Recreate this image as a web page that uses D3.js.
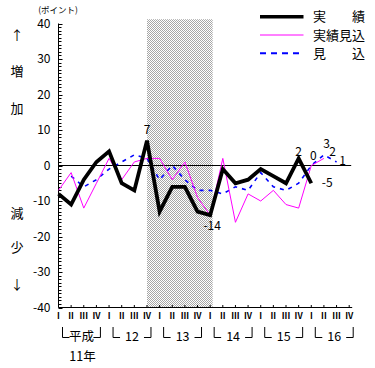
<!DOCTYPE html>
<html><head><meta charset="utf-8">
<script src="https://cdn.jsdelivr.net/npm/d3@7"></script>
<style>body{margin:0;background:#fff}svg{display:block}text{font-family:"Noto Sans CJK JP","DejaVu Sans",sans-serif}</style>
</head><body>
<svg id="c" width="375" height="368"></svg>
<script>
// ---- data ----
const quarterLabels = ["I","II","III","IV"];
const yearLabels = ["平成","12","13","14","15","16"];
const firstYearSuffix = "11年";
const yTicks = [40,30,20,10,0,-10,-20,-30,-40];
// 実績 (from 平成11年Ⅰ)
const actual = [-8,-11,-4,1,4,-5,-7,7,-13,-6,-6,-13,-14,-1,-5,-4,-1,-3,-5,2,-5];
// 実績見込
const actualEst = [-7,-2,-12,-5,2,-4,1,2,2,-4,1,-9,-14,2,-16,-8,-10,-7,-11,-12,0,2];
// 見込 (null = no value)
const forecast = [null,-3,-6,-4,-1,1,3,2,-4,0,-4,-7,-7,-8,-6,-7,-2,-6,-7,-5,0,3,1];
const shadeFrom = 7, shadeTo = 12;   // 12年Ⅳ .. 14年Ⅰ
const annotations = [
  {series:"actual", idx:7, text:"7", dx:0, dy:-11},
  {series:"actual", idx:12, text:"-14", dx:2, dy:10},
  {series:"actual", idx:19, text:"2", dx:0, dy:-7},
  {series:"actualEst", idx:20, text:"0", dx:2, dy:-9.5},
  {series:"forecast", idx:21, text:"3", dx:2.7, dy:-11},
  {series:"actualEst", idx:21, text:"2", dx:8.7, dy:-6.7},
  {series:"forecast", idx:22, text:"1", dx:6, dy:-1},
  {series:"actual", idx:20, text:"-5", dx:16, dy:-1}
];
const legendItems = [
  {name:"実績", color:"#000", width:3.5, dash:null},
  {name:"実績見込", color:"#ff00ff", width:1, dash:null},
  {name:"見込", color:"#0000ff", width:2, dash:"6,5"}
];
const seriesMap = {actual, actualEst, forecast};

// ---- scales ----
const nQ = 24;
const x = d3.scaleLinear().domain([0, nQ-1]).range([58.5, 349.2]);
const y = d3.scaleLinear().domain([-40, 40]).range([307.5, 23.5]);
const svg = d3.select("#c");

// shading pattern
const defs = svg.append("defs");
const pat = defs.append("pattern").attr("id","chk").attr("width",2).attr("height",2)
  .attr("patternUnits","userSpaceOnUse");
pat.append("rect").attr("width",2).attr("height",2).attr("fill","#fff");
pat.append("rect").attr("x",0).attr("y",0).attr("width",1).attr("height",1).attr("fill","#a6a6a6");
pat.append("rect").attr("x",1).attr("y",1).attr("width",1).attr("height",1).attr("fill","#a6a6a6");
svg.append("rect")
  .attr("x", x(shadeFrom)).attr("y", y(41.2))
  .attr("width", x(shadeTo) - x(shadeFrom) + 2.5)
  .attr("height", y(-40) - y(41.2))
  .attr("fill","url(#chk)");

// y axis
const yAxis = svg.append("g").attr("transform",`translate(${x(0)},0)`);
yAxis.append("line").attr("x1",0).attr("x2",0).attr("y1",y(40)).attr("y2",y(-40)).attr("stroke","#000");
yAxis.selectAll("line.minor").data(d3.range(-40,41,1)).enter().append("line")
  .attr("x1",0).attr("x2",d=> d%10===0 ? 4 : 3)
  .attr("y1",d=>Math.round(y(d))+0.5).attr("y2",d=>Math.round(y(d))+0.5).attr("stroke","#000");
yAxis.selectAll("text").data(yTicks).enter().append("text")
  .attr("x",-8).attr("y",d=>y(d)).attr("dy","0.36em").attr("text-anchor","end")
  .attr("font-size",12).text(d=>d);

// x axis
svg.append("line").attr("x1",x(0)).attr("x2",x(nQ-1)+3).attr("y1",y(-40)).attr("y2",y(-40)).attr("stroke","#000");
svg.selectAll("line.xt").data(d3.range(nQ)).enter().append("line")
  .attr("x1",d=>x(d)).attr("x2",d=>x(d)).attr("y1",y(-40)).attr("y2",y(-40)-2.5).attr("stroke","#000");
svg.selectAll("text.q").data(d3.range(nQ)).enter().append("text")
  .attr("x",d=>x(d)).attr("y",318.5).attr("text-anchor","middle").attr("font-size",8.5)
  .attr("font-family","Liberation Serif, serif").attr("font-weight","bold")
  .text(d=>quarterLabels[d%4]);

// year brackets
yearLabels.forEach((lab,k)=>{
  const x0 = x(4*k)+4, x1 = x(4*k+3)+4, yt = 327, yb = 337.5;
  const arm = 7;
  const g = svg.append("g").attr("stroke","#000").attr("fill","none");
  g.append("path").attr("d",`M${x0},${yt}V${yb}H${x0+arm}`);
  g.append("path").attr("d",`M${x1-arm},${yb}H${x1}V${yt}`);
  svg.append("text").attr("x",(x0+x1)/2).attr("y",yb+3).attr("text-anchor","middle")
    .attr("font-size",12.5).text(lab);
});
svg.append("text").attr("x",(x(0)+x(3))/2+5).attr("y",361).attr("text-anchor","middle")
  .attr("font-size",12.5).text(firstYearSuffix);

// zero line
svg.append("line").attr("x1",x(0)).attr("x2",x(nQ-1)+2).attr("y1",y(0)).attr("y2",y(0)).attr("stroke","#000");

// series
const line = d3.line().defined(d=>d!=null).x((d,i)=>x(i)).y(d=>y(d));
svg.append("path").datum(forecast).attr("d",line).attr("fill","none")
  .attr("stroke","#0000ff").attr("stroke-width",1.6).attr("stroke-dasharray","4,5");
svg.append("path").datum(actualEst).attr("d",line).attr("fill","none")
  .attr("stroke","#ff00ff").attr("stroke-width",1);
svg.append("path").datum(actual).attr("d",line).attr("fill","none")
  .attr("stroke","#000").attr("stroke-width",3.8).attr("stroke-linejoin","miter");

// annotations
annotations.forEach(a=>{
  const v = seriesMap[a.series][a.idx];
  svg.append("text").attr("x",x(a.idx)+a.dx).attr("y",y(v)+a.dy).attr("dy","0.36em")
    .attr("text-anchor","middle").attr("font-size",12).text(a.text);
});

// left side labels
const sideLabels = [["↑",35],["増",71.5],["加",108],["減",213],["少",247],["↓",284]];
svg.selectAll("text.side").data(sideLabels).enter().append("text")
  .attr("x",17).attr("y",d=>d[1]).attr("dy","0.36em").attr("text-anchor","middle")
  .attr("font-size",13).text(d=>d[0]);
svg.append("text").attr("x",58).attr("y",10).attr("dy","0.36em").attr("text-anchor","middle")
  .attr("font-size",8.5).text("(ポイント)");

// legend
legendItems.forEach((it,i)=>{
  const ly = 16.7 + i*18.3;
  svg.append("line").attr("x1",260).attr("x2",303.5).attr("y1",ly).attr("y2",ly)
    .attr("stroke",it.color).attr("stroke-width",it.width).attr("stroke-dasharray",it.dash);
  const chars = it.name.split("");
  if (chars.length===2) {
    svg.append("text").attr("x",313).attr("y",ly).attr("dy","0.36em").attr("font-size",13).text(chars[0]);
    svg.append("text").attr("x",365).attr("y",ly).attr("dy","0.36em").attr("font-size",13)
      .attr("text-anchor","end").text(chars[1]);
  } else {
    svg.append("text").attr("x",313).attr("y",ly).attr("dy","0.36em").attr("font-size",13)
      .attr("textLength",52).attr("lengthAdjust","spacing").text(it.name);
  }
});
</script>
</body></html>
